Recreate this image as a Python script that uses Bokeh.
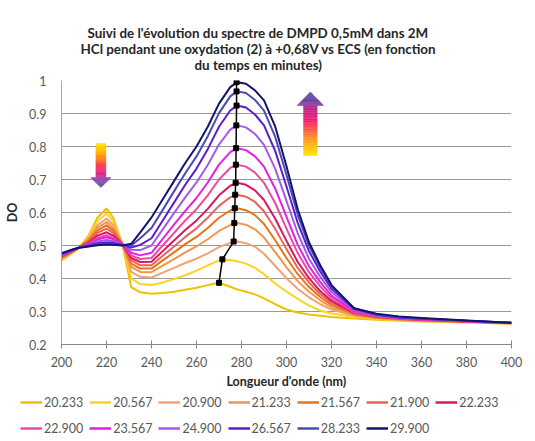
from bokeh.plotting import figure
from bokeh.models import (Range1d, FixedTicker, CustomJSTickFormatter, Legend,
                          LegendItem, Title)
from bokeh.embed import file_html
from bokeh.resources import INLINE

# ---------------- data ----------------
wavelength = [200, 205, 208, 212, 216, 220, 223, 227, 231, 235, 240, 245, 250,
              255, 260, 265, 270, 275, 278, 282, 286, 290, 295, 300, 305, 310,
              315, 320, 330, 340, 350, 360, 380, 400]

do_20_233 = [0.455, 0.478, 0.494, 0.530, 0.585, 0.612, 0.584, 0.505, 0.374, 0.358, 0.354, 0.356, 0.360,
             0.366, 0.372, 0.380, 0.387, 0.375, 0.367, 0.360, 0.352, 0.340, 0.322, 0.306, 0.297, 0.291,
             0.287, 0.283, 0.279, 0.275, 0.272, 0.270, 0.267, 0.263]
do_20_567 = [0.457, 0.479, 0.494, 0.526, 0.574, 0.597, 0.573, 0.505, 0.400, 0.383, 0.380, 0.388, 0.398,
             0.410, 0.424, 0.440, 0.455, 0.456, 0.452, 0.445, 0.432, 0.413, 0.385, 0.360, 0.338, 0.318,
             0.303, 0.294, 0.284, 0.278, 0.274, 0.271, 0.268, 0.264]
do_20_900 = [0.459, 0.480, 0.495, 0.521, 0.562, 0.582, 0.562, 0.505, 0.420, 0.405, 0.403, 0.418, 0.432,
             0.447, 0.460, 0.476, 0.495, 0.508, 0.512, 0.507, 0.496, 0.475, 0.438, 0.401, 0.368, 0.343,
             0.322, 0.306, 0.287, 0.280, 0.275, 0.272, 0.268, 0.264]
do_21_233 = [0.461, 0.481, 0.495, 0.518, 0.554, 0.571, 0.553, 0.505, 0.435, 0.420, 0.419, 0.439, 0.459,
             0.479, 0.497, 0.519, 0.544, 0.562, 0.568, 0.563, 0.549, 0.524, 0.480, 0.434, 0.392, 0.360,
             0.334, 0.313, 0.290, 0.281, 0.276, 0.273, 0.269, 0.264]
do_21_567 = [0.463, 0.482, 0.495, 0.515, 0.546, 0.561, 0.546, 0.505, 0.445, 0.430, 0.430, 0.455, 0.479,
             0.504, 0.526, 0.553, 0.584, 0.606, 0.613, 0.607, 0.592, 0.565, 0.516, 0.462, 0.413, 0.374,
             0.344, 0.320, 0.292, 0.282, 0.277, 0.273, 0.269, 0.265]
do_21_900 = [0.465, 0.483, 0.495, 0.512, 0.538, 0.551, 0.538, 0.505, 0.455, 0.440, 0.440, 0.469, 0.497,
             0.526, 0.552, 0.584, 0.620, 0.646, 0.654, 0.648, 0.632, 0.604, 0.550, 0.489, 0.432, 0.388,
             0.353, 0.326, 0.294, 0.283, 0.278, 0.274, 0.270, 0.265]
do_22_233 = [0.467, 0.484, 0.495, 0.509, 0.530, 0.540, 0.530, 0.505, 0.462, 0.450, 0.451, 0.483, 0.515,
             0.547, 0.576, 0.611, 0.652, 0.681, 0.690, 0.684, 0.667, 0.638, 0.581, 0.514, 0.450, 0.401,
             0.362, 0.332, 0.296, 0.284, 0.279, 0.275, 0.270, 0.265]
do_22_900 = [0.469, 0.485, 0.495, 0.506, 0.523, 0.531, 0.523, 0.505, 0.470, 0.459, 0.462, 0.500, 0.538,
             0.576, 0.610, 0.652, 0.700, 0.735, 0.745, 0.739, 0.721, 0.690, 0.628, 0.551, 0.477, 0.419,
             0.376, 0.340, 0.298, 0.285, 0.279, 0.275, 0.270, 0.265]
do_23_567 = [0.470, 0.486, 0.495, 0.504, 0.518, 0.525, 0.519, 0.504, 0.478, 0.470, 0.478, 0.520, 0.563,
             0.605, 0.644, 0.691, 0.745, 0.783, 0.795, 0.789, 0.770, 0.739, 0.672, 0.587, 0.502, 0.437,
             0.389, 0.348, 0.302, 0.287, 0.280, 0.276, 0.271, 0.265]
do_24_900 = [0.472, 0.486, 0.495, 0.502, 0.512, 0.517, 0.513, 0.503, 0.487, 0.486, 0.500, 0.549, 0.598,
             0.646, 0.691, 0.744, 0.806, 0.851, 0.864, 0.858, 0.838, 0.805, 0.732, 0.635, 0.537, 0.460,
             0.405, 0.359, 0.305, 0.288, 0.281, 0.277, 0.271, 0.266]
do_26_567 = [0.473, 0.487, 0.494, 0.500, 0.507, 0.510, 0.508, 0.502, 0.494, 0.502, 0.522, 0.576, 0.630,
             0.684, 0.733, 0.792, 0.860, 0.909, 0.924, 0.918, 0.897, 0.864, 0.786, 0.679, 0.568, 0.483,
             0.421, 0.369, 0.308, 0.290, 0.282, 0.278, 0.272, 0.266]
do_28_233 = [0.475, 0.488, 0.494, 0.498, 0.503, 0.505, 0.504, 0.501, 0.500, 0.522, 0.553, 0.608, 0.664,
             0.719, 0.770, 0.831, 0.901, 0.952, 0.967, 0.962, 0.941, 0.909, 0.829, 0.714, 0.593, 0.499,
             0.433, 0.376, 0.310, 0.291, 0.283, 0.279, 0.272, 0.266]
do_29_900 = [0.477, 0.488, 0.493, 0.497, 0.501, 0.503, 0.502, 0.500, 0.505, 0.540, 0.585, 0.640, 0.695,
             0.750, 0.800, 0.860, 0.930, 0.980, 0.995, 0.990, 0.970, 0.940, 0.860, 0.740, 0.610, 0.510,
             0.440, 0.380, 0.310, 0.293, 0.285, 0.280, 0.273, 0.266]

series_labels = ["20.233", "20.567", "20.900", "21.233", "21.567", "21.900", "22.233",
                 "22.900", "23.567", "24.900", "26.567", "28.233", "29.900"]
series_values = [do_20_233, do_20_567, do_20_900, do_21_233, do_21_567, do_21_900, do_22_233,
                 do_22_900, do_23_567, do_24_900, do_26_567, do_28_233, do_29_900]
series_colors = ["#EFC100", "#FFD21F", "#F5A070", "#F5944A", "#E67519", "#E8645A", "#DC1464",
                 "#EC4B9B", "#E61EE6", "#A35AE6", "#5A1ED2", "#4B4BB4", "#14146E"]

# position of the absorption maximum of each spectrum
peak_wl = [270.0, 271.5, 276.5, 276.8, 277.0, 277.2, 277.4, 277.5, 277.6, 277.7, 277.8, 277.8, 277.8]
peak_do = [0.387, 0.458, 0.512, 0.568, 0.613, 0.654, 0.690, 0.745, 0.795, 0.864, 0.924, 0.967, 0.995]

x_ticks = [200, 220, 240, 260, 280, 300, 320, 340, 360, 380, 400]
y_ticks = [0.2, 0.3, 0.4, 0.5, 0.6, 0.7, 0.8, 0.9, 1.0]

title_lines = ["Suivi de l'évolution du spectre de DMPD 0,5mM dans 2M",
               "HCl pendant une oxydation (2) à +0,68V vs ECS (en fonction",
               "du temps en minutes)"]
x_title = "Longueur d'onde (nm)"
y_title = "DO"

for s in series_values:
    assert len(s) == len(wavelength)

FONT = "Lato"

# ---------------- main figure ----------------
p = figure(width=527, height=394, output_backend="svg", toolbar_location=None, title=None,
           x_range=Range1d(200, 400), y_range=Range1d(0.2, 1.0),
           min_border_left=61, min_border_right=16, min_border_top=80, min_border_bottom=50)
p.outline_line_color = None
p.background_fill_color = "white"
p.border_fill_color = "white"

p.xgrid.grid_line_color = None
p.ygrid.grid_line_color = "#9a9a9a"
p.ygrid.grid_line_width = 1
p.ygrid.ticker = FixedTicker(ticks=y_ticks)

xa = p.xaxis[0]
xa.ticker = FixedTicker(ticks=x_ticks)
xa.axis_line_color = "#868686"
xa.major_tick_line_color = "#868686"
xa.major_tick_in = 4
xa.major_tick_out = 4
xa.minor_tick_line_color = None
xa.major_label_text_font = FONT
xa.major_label_text_font_size = "12.5px"
xa.major_label_text_color = "#595959"
xa.major_label_standoff = 8
xa.axis_label = x_title
xa.axis_label_text_font = FONT
xa.axis_label_text_font_size = "12.5px"
xa.axis_label_text_font_style = "bold"
xa.axis_label_text_color = "#262626"
xa.axis_label_standoff = 4

ya = p.yaxis[0]
ya.ticker = FixedTicker(ticks=y_ticks)
ya.formatter = CustomJSTickFormatter(code="return (Math.round(tick*10)/10).toString();")
ya.axis_line_color = "#a6a6a6"
ya.major_tick_line_color = None
ya.major_tick_in = 0
ya.major_tick_out = 0
ya.minor_tick_line_color = None
ya.major_label_text_font = FONT
ya.major_label_text_font_size = "12.5px"
ya.major_label_text_color = "#595959"
ya.major_label_standoff = 15
ya.axis_label = y_title
ya.axis_label_text_font = FONT
ya.axis_label_text_font_size = "12.5px"
ya.axis_label_text_font_style = "bold"
ya.axis_label_text_color = "#262626"
ya.axis_label_standoff = 6

# spectra
for vals, col in zip(series_values, series_colors):
    p.line(wavelength, vals, line_color=col, line_width=2, line_join="round")

# line through maxima
p.line(peak_wl, peak_do, line_color="black", line_width=1.5)
p.scatter(peak_wl, peak_do, marker="square", size=5, color="black")


# ---------------- gradient arrows ----------------
def hex2rgb(h):
    h = h.lstrip("#")
    return tuple(int(h[i:i + 2], 16) for i in (0, 2, 4))


def interp(stops, t):
    for (t0, c0), (t1, c1) in zip(stops[:-1], stops[1:]):
        if t0 <= t <= t1:
            a = (t - t0) / (t1 - t0) if t1 > t0 else 0
            r0, g0, b0 = hex2rgb(c0)
            r1, g1, b1 = hex2rgb(c1)
            return "#%02x%02x%02x" % (round(r0 + (r1 - r0) * a), round(g0 + (g1 - g0) * a),
                                      round(b0 + (b1 - b0) * a))
    return stops[-1][1]


def arrow(cx, shaft_hw, y_start, y_base, y_tip, head_hw, shaft_stops, head_stops, n=30, m=12):
    lefts, rights, bottoms, tops, cols = [], [], [], [], []
    for k in range(n):
        ya_ = y_start + (y_base - y_start) * k / n
        yb_ = y_start + (y_base - y_start) * (k + 1) / n
        lefts.append(cx - shaft_hw)
        rights.append(cx + shaft_hw)
        bottoms.append(min(ya_, yb_))
        tops.append(max(ya_, yb_))
        cols.append(interp(shaft_stops, (k + 0.5) / n))
    p.quad(left=lefts, right=rights, bottom=bottoms, top=tops, fill_color=cols,
           line_color=cols, line_width=0.5)
    xs, ys, hcols = [], [], []
    for k in range(m):
        y0 = y_base + (y_tip - y_base) * k / m
        y1 = y_base + (y_tip - y_base) * (k + 1) / m
        w0 = head_hw * (1 - k / m)
        w1 = head_hw * (1 - (k + 1) / m)
        xs.append([cx - w0, cx + w0, cx + w1, cx - w1])
        ys.append([y0, y0, y1, y1])
        hcols.append(interp(head_stops, (k + 0.5) / m))
    p.patches(xs, ys, fill_color=hcols, line_color=hcols, line_width=0.5)


# downward arrow (left band)
arrow(217.5, 2.2, 0.809, 0.706, 0.676, 4.5,
      [(0, "#FFE800"), (0.35, "#FFA000"), (0.7, "#FF2A60"), (1.0, "#C8309C")],
      [(0, "#A844A8"), (1.0, "#5F62AC")])
# upward arrow (main band)
arrow(310.6, 3.0, 0.773, 0.924, 0.965, 5.9,
      [(0, "#FFE800"), (0.35, "#FF9424"), (0.7, "#F5206E"), (1.0, "#B82C92")],
      [(0, "#8A40A2"), (1.0, "#4E52A8")])

# ---------------- title (stacked upward from the frame) ----------------
p.add_layout(Title(text=" ", text_font_size="7px", standoff=0), "above")
for line, off in zip(reversed(title_lines), (133, 19, 26)):
    p.add_layout(Title(text=line, align="left", offset=off, standoff=-2,
                       text_font=FONT, text_font_size="13.4px", text_font_style="bold",
                       text_color="#262626"), "above")

# ---------------- legend (separate strip below the chart) ----------------
pl = figure(width=527, height=44, output_backend="svg", toolbar_location=None, title=None,
            x_axis_location=None, y_axis_location=None,
            min_border=0, min_border_left=0, min_border_right=0,
            min_border_top=0, min_border_bottom=0,
            x_range=Range1d(0, 1), y_range=Range1d(0, 1))
pl.outline_line_color = None
pl.grid.grid_line_color = None
pl.background_fill_color = "white"
pl.border_fill_color = "white"

nan = float("nan")
leg_renderers = [pl.line(x=[nan], y=[nan], line_color=col, line_width=2.5) for col in series_colors]
items = [LegendItem(label=lab, renderers=[r]) for lab, r in zip(series_labels, leg_renderers)]
for chunk, loc in ((items[:7], (20, 28)), (items[7:], (20, 2))):
    leg = Legend(items=chunk, orientation="horizontal", location=loc,
                 label_text_font=FONT, label_text_font_size="12.5px",
                 label_text_color="#595959", glyph_width=22, glyph_height=16,
                 label_height=16, label_standoff=2, spacing=6, padding=0, margin=0,
                 border_line_color=None, background_fill_alpha=0)
    pl.add_layout(leg)

open("out.html", "w").write(file_html([p, pl], INLINE))
